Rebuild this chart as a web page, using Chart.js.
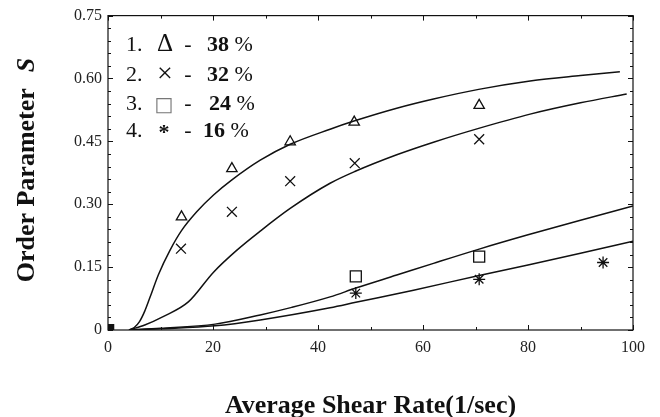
<!DOCTYPE html>
<html>
<head>
<meta charset="utf-8">
<script src="https://cdn.jsdelivr.net/npm/chart.js@4.4.0/dist/chart.umd.min.js"></script>
<style>
  html, body { margin: 0; padding: 0; background: #fff; }
  #wrap { position: relative; width: 660px; height: 417px; }
</style>
</head>
<body>
<div id="wrap"><canvas id="myChart" width="660" height="417"></canvas></div>
<script>
// fitted curves
const fit38X = [4, 5, 6, 7, 8, 9.6, 11.8, 14, 16.9, 20.1, 23.6, 29, 34.7, 42.3, 47, 55, 62, 70.6, 80.4, 90, 97.5];
const fit38Y = [0, 0.006, 0.02, 0.045, 0.078, 0.132, 0.19, 0.237, 0.282, 0.322, 0.358, 0.405, 0.443, 0.479, 0.499, 0.529, 0.551, 0.574, 0.594, 0.607, 0.616];
const fit32X = [4, 7, 10.5, 15.3, 20.1, 24.5, 29, 34.7, 42.3, 47, 55, 62, 70.6, 80.4, 90, 98.8];
const fit32Y = [0, 0.012, 0.032, 0.067, 0.138, 0.19, 0.236, 0.29, 0.35, 0.378, 0.418, 0.448, 0.481, 0.515, 0.542, 0.563];
const fit24X = [4, 10, 20.4, 29, 35, 42.3, 47.2, 55, 62, 70.7, 80, 90, 100];
const fit24Y = [0, 0.004, 0.014, 0.036, 0.054, 0.079, 0.1, 0.131, 0.159, 0.193, 0.227, 0.262, 0.296];
const fit16X = [4, 10, 20.4, 29, 42.3, 47.2, 58.2, 70.7, 80, 90, 100];
const fit16Y = [0, 0.003, 0.01, 0.024, 0.053, 0.066, 0.095, 0.13, 0.155, 0.183, 0.212];

// measured points
const pts38X = [14, 23.6, 34.7, 46.9, 70.7];
const pts38Y = [0.27, 0.385, 0.449, 0.496, 0.536];
const pts32X = [13.9, 23.6, 34.7, 47, 70.7];
const pts32Y = [0.194, 0.282, 0.355, 0.398, 0.455];
const pts24X = [47.2, 70.7];
const pts24Y = [0.128, 0.175];
const pts16X = [47.2, 70.7, 94.3];
const pts16Y = [0.088, 0.121, 0.161];
const originX = [0.6];
const originY = [0.007];

const legendSymbols = ['\u0394', '\u00d7', '\u25a1', '*'];
const legendPercents = ['38', '32', '24', '16'];

const xTitle = 'Average Shear Rate(1/sec)';
const yTitle = 'Order Parameter';
const yTitleVar = 'S';

function toXY(xs, ys) {
  return xs.map((x, i) => ({ x: x, y: ys[i] }));
}

const ink = '#111';

function curve(xs, ys) {
  return {
    data: toXY(xs, ys),
    showLine: true,
    borderColor: ink,
    borderWidth: 1.5,
    pointRadius: 0,
    cubicInterpolationMode: 'monotone',
    fill: false
  };
}

function marks(xs, ys, style, radius, fillCol) {
  return {
    data: toXY(xs, ys),
    showLine: false,
    pointStyle: style,
    pointRadius: radius,
    pointBorderColor: ink,
    pointBackgroundColor: fillCol || 'rgba(0,0,0,0)',
    pointBorderWidth: 1.3
  };
}

// frame, inward ticks, in-plot legend and y title
const decor = {
  id: 'decor',
  afterDraw(chart) {
    const c = chart.ctx;
    const a = chart.chartArea;
    const xs = chart.scales.x, ys = chart.scales.y;
    c.save();
    c.strokeStyle = ink;
    c.lineWidth = 1.2;
    c.strokeRect(a.left, a.top, a.right - a.left, a.bottom - a.top);
    c.lineWidth = 1;
    c.beginPath();
    ys.ticks.forEach((t, i) => {
      const p = Math.round(ys.getPixelForValue(t.value)) + 0.5;
      const len = i % 5 === 0 ? 5 : 3;
      c.moveTo(a.left, p); c.lineTo(a.left + len, p);
      c.moveTo(a.right, p); c.lineTo(a.right - len, p);
    });
    xs.ticks.forEach((t, i) => {
      const p = Math.round(xs.getPixelForValue(t.value)) + 0.5;
      const len = i % 2 === 0 ? 5 : 3;
      c.moveTo(p, a.bottom); c.lineTo(p, a.bottom - len);
      c.moveTo(p, a.top); c.lineTo(p, a.top + len);
    });
    c.stroke();

    // legend text
    const base = [51, 81, 110, 137];
    const pctX = [207, 207, 209, 203];
    c.fillStyle = ink;
    c.textBaseline = 'alphabetic';
    legendSymbols.forEach((s, i) => {
      c.font = '22px "Liberation Serif", "DejaVu Serif"';
      c.textAlign = 'left';
      c.fillText((i + 1) + '.', 126, base[i]);
      c.textAlign = 'center';
      if (s === '*') {
        c.font = 'bold 22px "Liberation Serif"';
        c.fillText(s, 164, base[i] + 2);
      } else if (s === '\u25a1') {
        c.fillStyle = '#777';
        c.font = '20px "DejaVu Sans"';
        c.fillText(s, 164, base[i] + 1);
        c.fillStyle = ink;
      } else if (s === '\u00d7') {
        c.font = '28px "Liberation Serif"';
        c.fillText(s, 165, base[i] + 1);
      } else {
        c.font = '25px "Liberation Serif"';
        c.fillText(s, 165, base[i]);
      }
      c.font = '22px "Liberation Serif"';
      c.fillText('-', 188, base[i]);
      c.textAlign = 'left';
      c.font = 'bold 22px "Liberation Serif"';
      c.fillText(legendPercents[i], pctX[i], base[i]);
      const w = c.measureText(legendPercents[i]).width;
      c.font = '22px "Liberation Serif"';
      c.fillText(' %', pctX[i] + w, base[i]);
    });

    // rotated y title with italic S
    c.translate(27, 170);
    c.rotate(-Math.PI / 2);
    c.textBaseline = 'middle';
    c.textAlign = 'left';
    c.font = 'bold 26px "Liberation Serif"';
    const w1 = c.measureText(yTitle).width;
    c.font = 'bold italic 26px "Liberation Serif"';
    const w2 = c.measureText(yTitleVar).width;
    const gap = 16;
    const x0 = -(w1 + gap + w2) / 2;
    c.font = 'bold 26px "Liberation Serif"';
    c.fillText(yTitle, x0, 0);
    c.font = 'bold italic 26px "Liberation Serif"';
    c.fillText(yTitleVar, x0 + w1 + gap, 0);
    c.restore();
  }
};

const ctx = document.getElementById('myChart').getContext('2d');
const tickFont = { family: '"Liberation Serif", "Times New Roman", serif', size: 16 };

new Chart(ctx, {
  type: 'scatter',
  data: {
    datasets: [
      curve(fit38X, fit38Y),
      curve(fit32X, fit32Y),
      curve(fit24X, fit24Y),
      curve(fit16X, fit16Y),
      marks(pts38X, pts38Y, 'triangle', 6),
      marks(pts32X, pts32Y, 'crossRot', 7),
      marks(pts24X, pts24Y, 'rect', 7.8),
      marks(pts16X, pts16Y, 'star', 6),
      marks(originX, originY, 'rect', 3.5, ink)
    ]
  },
  options: {
    responsive: false,
    animation: false,
    layout: { padding: { top: 14, right: 27, left: 0, bottom: 0 } },
    plugins: { legend: { display: false }, tooltip: { enabled: false } },
    scales: {
      x: {
        type: 'linear',
        min: 0,
        max: 100,
        grid: { display: false, drawTicks: false },
        border: { display: false },
        ticks: {
          stepSize: 10,
          autoSkip: false,
          maxRotation: 0,
          padding: 8,
          color: '#222',
          font: tickFont,
          callback: (v) => (v % 20 === 0 ? String(v) : '')
        },
        title: {
          display: true,
          text: xTitle,
          color: ink,
          padding: { top: 0, bottom: -5 },
          font: { family: '"Liberation Serif", "Times New Roman", serif', size: 26, weight: 'bold' }
        },
        afterFit: (s) => { s.height = 87; }
      },
      y: {
        type: 'linear',
        min: 0,
        max: 0.75,
        grid: { display: false, drawTicks: false },
        border: { display: false },
        ticks: {
          stepSize: 0.03,
          autoSkip: false,
          padding: 6,
          color: '#222',
          font: tickFont,
          callback: (v, i) => (i % 5 === 0 ? (v === 0 ? '0' : v.toFixed(2)) : '')
        },
        afterFit: (s) => { s.width = 108; }
      }
    }
  },
  plugins: [decor]
});
</script>
</body>
</html>
